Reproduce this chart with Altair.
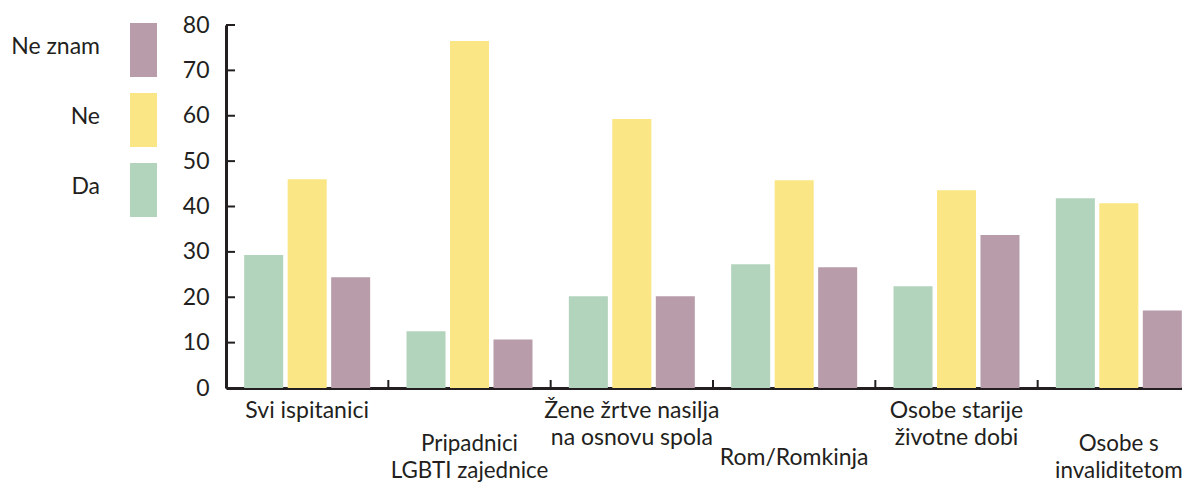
import altair as alt
import pandas as pd

categories = [
    "Svi ispitanici",
    "Pripadnici\nLGBTI zajednice",
    "Žene žrtve nasilja\nna osnovu spola",
    "Rom/Romkinja",
    "Osobe starije\nživotne dobi",
    "Osobe s\ninvaliditetom",
]
series = ["Da", "Ne", "Ne znam"]
da = [29.3, 12.5, 20.2, 27.3, 22.4, 41.8]
ne = [46.0, 76.5, 59.3, 45.8, 43.6, 40.7]
ne_znam = [24.4, 10.7, 20.2, 26.6, 33.7, 17.1]
colors = ["#b2d3bc", "#fae685", "#b89caa"]
y_ticks = [0, 10, 20, 30, 40, 50, 60, 70, 80]
legend_order = ["Ne znam", "Ne", "Da"]

FONT = "Lato"
TXT = "#231f20"
FS = 23
W, H = 974, 363

rows = []
for i, c in enumerate(categories):
    for s, vals in zip(series, [da, ne, ne_znam]):
        rows.append({"cat": c, "series": s, "value": vals[i]})
df = pd.DataFrame(rows)
cat_df = pd.DataFrame({
    "cat": categories,
    "row": [i % 2 for i in range(len(categories))],
    "nlines": [c.count("\n") + 1 for c in categories],
})
tick_df = pd.DataFrame({"value": y_ticks})

x_axis = alt.Axis(title=None, labels=False, ticks=False, grid=False,
                  domainColor=TXT, domainWidth=3)
y_axis = alt.Axis(title=None, values=y_ticks, ticks=False, grid=False,
                  domainColor=TXT, domainWidth=3, labelPadding=17,
                  labelFont=FONT, labelFontSize=FS, labelColor=TXT,
                  minExtent=46, maxExtent=46)
x_scale = alt.Scale(paddingInner=0, paddingOuter=0)
x_enc = alt.X("cat:N", sort=categories, scale=x_scale, axis=x_axis)
y_enc = alt.Y("value:Q", scale=alt.Scale(domain=[0, 80], nice=False), axis=y_axis)

bars = alt.Chart(df).mark_bar().encode(
    x=x_enc,
    xOffset=alt.XOffset("series:N", sort=series,
                        scale=alt.Scale(paddingInner=0.103, paddingOuter=0.418)),
    y=y_enc,
    color=alt.Color("series:N", scale=alt.Scale(domain=series, range=colors), legend=None),
)

ytick = alt.Chart(tick_df).mark_rule(color=TXT, strokeWidth=2).encode(
    y=y_enc, x=alt.value(0), x2=alt.value(9)
)

xtick = alt.Chart(cat_df).mark_rule(color=TXT, strokeWidth=2).encode(
    x=alt.X("cat:N", sort=categories, scale=x_scale, axis=x_axis, bandPosition=0),
    y=alt.value(H - 8), y2=alt.value(H),
)

text_style = dict(lineBreak="\n", lineHeight=26.5, font=FONT, color=TXT)

lab_top = alt.Chart(cat_df).transform_filter("datum.row == 0").mark_text(
    baseline="middle", fontSize=FS, **text_style
).encode(x=x_enc, y=alt.value(H + 23), text="cat:N")

lab_low2 = alt.Chart(cat_df).transform_filter(
    "datum.row == 1 && datum.nlines == 2"
).mark_text(baseline="middle", fontSize=22.4, **text_style).encode(
    x=x_enc, y=alt.value(H + 56), text="cat:N"
)
lab_low1 = alt.Chart(cat_df).transform_filter(
    "datum.row == 1 && datum.nlines == 1"
).mark_text(baseline="middle", fontSize=FS, **text_style).encode(
    x=x_enc, y=alt.value(H + 70), text="cat:N"
)

main = alt.layer(bars, ytick, xtick, lab_top, lab_low2, lab_low1).properties(width=W, height=H)

leg_df = pd.DataFrame({"s": legend_order,
                       "c": [colors[series.index(s)] for s in legend_order]})
leg_y = alt.Y("s:N", sort=legend_order, axis=None,
              scale=alt.Scale(range=[-2, 192], paddingInner=16 / 70, paddingOuter=0))
leg_rect = alt.Chart(leg_df).mark_rect().encode(
    y=leg_y, x=alt.value(122), x2=alt.value(149),
    color=alt.Color("c:N", scale=None, legend=None),
)
leg_text = alt.Chart(leg_df).mark_text(
    align="right", baseline="middle", dy=-3, font=FONT, fontSize=FS, color=TXT
).encode(y=leg_y, x=alt.value(92), text="s:N")
legend = alt.layer(leg_rect, leg_text).properties(width=152, height=H)

chart = alt.hconcat(legend, main, spacing=20).resolve_scale(
    x="independent", y="independent", color="independent"
).properties(
    padding={"left": 0, "top": 6, "right": -18, "bottom": 0}
).configure(background="white").configure_view(strokeWidth=0, stroke="transparent")

chart.save("out.html", embed_options={"renderer": "svg", "actions": False})
